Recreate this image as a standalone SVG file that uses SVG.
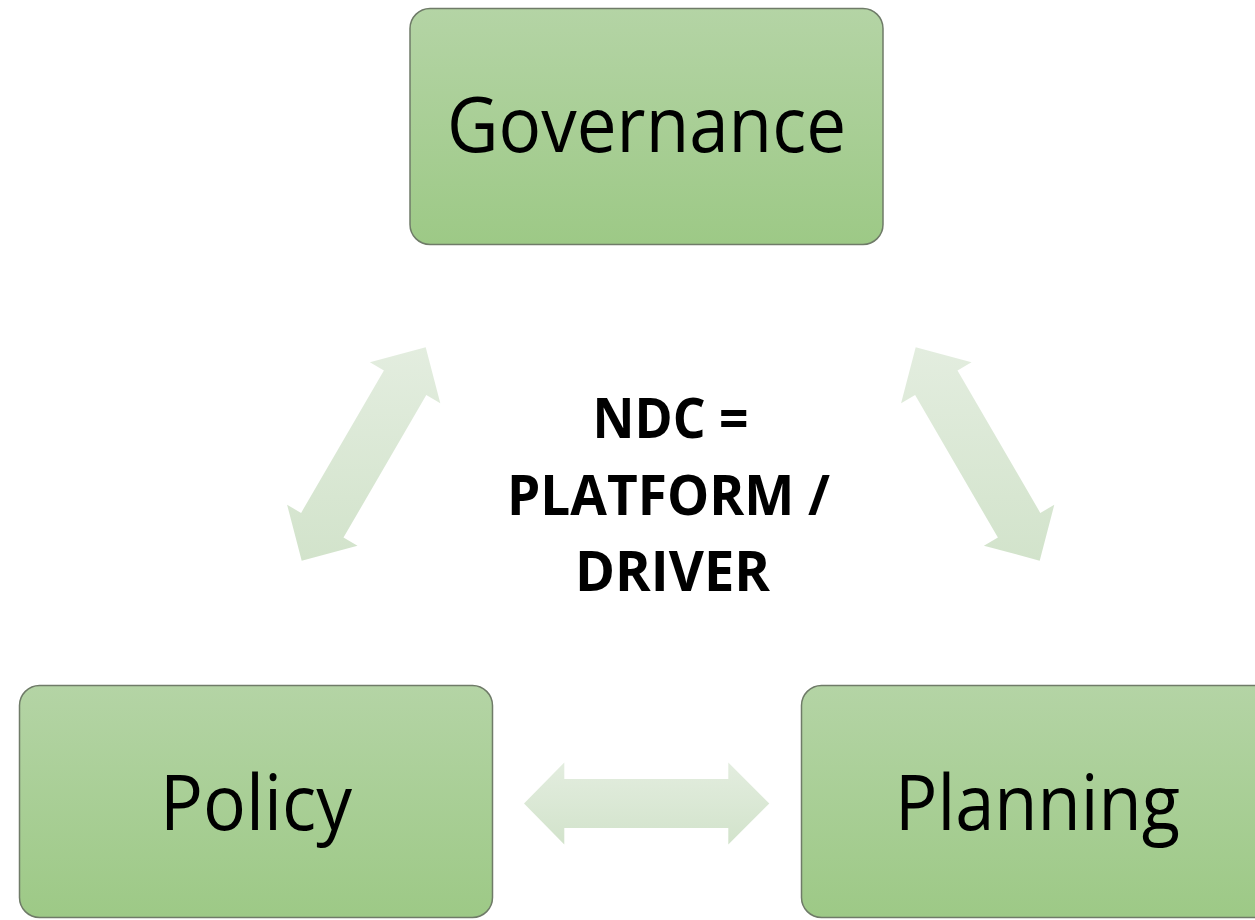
<svg xmlns="http://www.w3.org/2000/svg" width="1255" height="920" viewBox="0 0 1255 920">
  <defs>
    <linearGradient id="boxGrad" x1="0" y1="0" x2="0" y2="1">
      <stop offset="0" stop-color="#b4d4a5"/>
      <stop offset="1" stop-color="#9dc986"/>
    </linearGradient>
    <linearGradient id="arrowGrad" x1="0" y1="0" x2="0" y2="1">
      <stop offset="0" stop-color="#e3eddf"/>
      <stop offset="1" stop-color="#d2e3cb"/>
    </linearGradient>
    <style>
      .box { fill: url(#boxGrad); stroke: #6f7b68; stroke-width: 1.5; }
      .arrow { fill: url(#arrowGrad); stroke: none; }
      .label { font-family: "Open Sans", "Noto Sans", sans-serif; font-size: 77px; fill: #000; text-anchor: middle; }
      .center { font-family: "Open Sans", "Noto Sans", sans-serif; font-size: 56px; font-weight: bold; fill: #000; text-anchor: middle; }
    </style>
  </defs>
  <rect width="1255" height="920" fill="#ffffff"/>

  <g id="connectors">
    <polygon class="arrow" points="425.7,347.3 440.3,403.2 426.3,395.1 343.5,537.6 357.5,545.7 301.7,560.7 287.1,504.8 301.1,512.9 383.9,370.4 369.9,362.3"/>
    <polygon class="arrow" points="915.7,347.3 901.1,403.2 915.1,395.1 997.9,537.6 983.9,545.7 1039.7,560.7 1054.3,504.8 1040.3,512.9 957.5,370.4 971.5,362.3"/>
    <polygon class="arrow" points="524,803.5 564.3,762.5 564.3,779 728.3,779 728.3,762.5 769.3,803.5 728.3,844.5 728.3,828 564.3,828 564.3,844.5"/>
  </g>

  <g id="governance">
    <rect class="box" x="410" y="8.5" width="473" height="236" rx="20" ry="20"/>
    <text class="label" x="646.5" y="152" textLength="399" lengthAdjust="spacingAndGlyphs">Governance</text>
  </g>

  <g id="policy">
    <rect class="box" x="19.5" y="685.5" width="473" height="232" rx="20" ry="20"/>
    <text class="label" x="256" y="830" textLength="192" lengthAdjust="spacingAndGlyphs">Policy</text>
  </g>

  <g id="planning">
    <rect class="box" x="801.5" y="685.5" width="473" height="232" rx="20" ry="20"/>
    <text class="label" x="1037.5" y="830" textLength="285" lengthAdjust="spacingAndGlyphs">Planning</text>
  </g>

  <g id="ndc">
    <text class="center" x="670.5" y="438" textLength="156" lengthAdjust="spacingAndGlyphs">NDC =</text>
    <text class="center" x="668.5" y="515" textLength="323" lengthAdjust="spacingAndGlyphs">PLATFORM /</text>
    <text class="center" x="672.5" y="591" textLength="195" lengthAdjust="spacingAndGlyphs">DRIVER</text>
  </g>
</svg>
